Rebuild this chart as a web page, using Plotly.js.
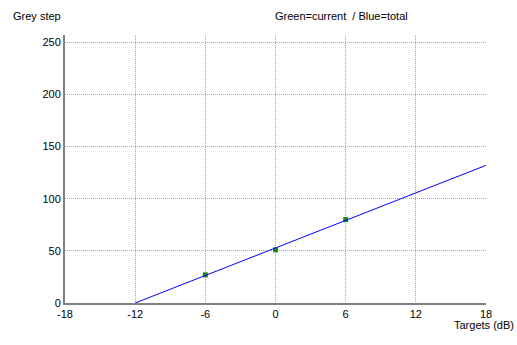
<!DOCTYPE html>
<html>
<head>
<meta charset="utf-8">
<script src="https://cdn.plot.ly/plotly-3.0.1.min.js"></script>
<style>html,body{margin:0;padding:0;background:#fff;}#chart{width:517px;height:345px;}</style>
</head>
<body>
<div id="chart"></div>
<script>
// Data
const currentX = [-6, 0, 6];
const currentY = [27, 51, 80];
const totalX = [-12, 18];
const totalY = [0, 132];
const xTicks = [-18, -12, -6, 0, 6, 12, 18];
const yTicks = [0, 50, 100, 150, 200, 250];

const font = {family: 'Liberation Sans, Arial, sans-serif', size: 11, color: '#000'};

const traces = [
  {x: currentX, y: currentY, type: 'scatter', mode: 'markers',
   marker: {symbol: 'square', size: 5, color: '#1a8a1a', line: {width: 0}}, hoverinfo: 'skip'},
  {x: totalX, y: totalY, type: 'scatter', mode: 'lines',
   line: {color: '#0000ff', width: 1}, hoverinfo: 'skip'}
];

const layout = {
  width: 517, height: 345,
  margin: {l: 65, r: 31, t: 35, b: 42},
  paper_bgcolor: '#fff', plot_bgcolor: '#fff',
  showlegend: false,
  font: font,
  xaxis: {
    range: [-18, 18], tickvals: xTicks, ticktext: xTicks.map(String),
    showgrid: true, gridcolor: '#a8a8a8', griddash: '1px,1px', gridwidth: 1,
    zeroline: false, showline: true, linecolor: '#808080', linewidth: 2,
    ticks: '', tickfont: font, ticklabelstandoff: 0, fixedrange: true
  },
  yaxis: {
    range: [0, 257], tickvals: yTicks, ticktext: yTicks.map(String),
    showgrid: true, gridcolor: '#a8a8a8', griddash: '1px,1px', gridwidth: 1,
    zeroline: false, showline: true, linecolor: '#808080', linewidth: 2,
    ticks: '', tickfont: font, fixedrange: true
  },
  annotations: [
    {text: 'Grey step', xref: 'paper', yref: 'paper', x: -65/421, y: 1 + 19/268,
     xanchor: 'left', yanchor: 'middle', showarrow: false, font: font, xshift: 11},
    {text: 'Green=current&nbsp;&nbsp;/ Blue=total', xref: 'paper', yref: 'paper', x: (273-65)/421, y: 1 + 19/268,
     xanchor: 'left', yanchor: 'middle', showarrow: false, font: font},
    {text: 'Targets (dB)', xref: 'paper', yref: 'paper', x: (516-65)/421, y: -22/268,
     xanchor: 'right', yanchor: 'middle', showarrow: false, font: font}
  ]
};

Plotly.newPlot('chart', traces, layout, {displayModeBar: false, staticPlot: true});
</script>
</body>
</html>
